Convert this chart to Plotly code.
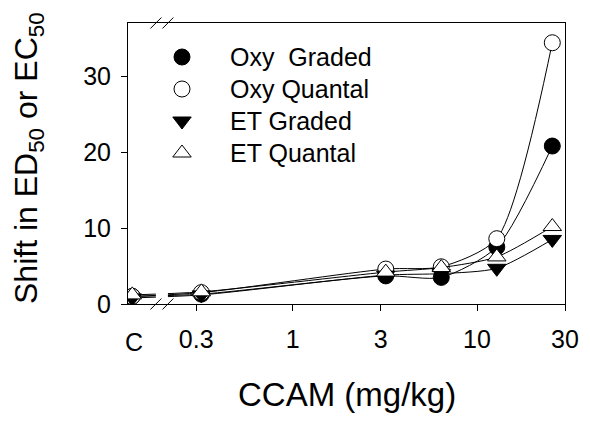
import math
import plotly.graph_objects as go

# ---------------- data ----------------
CONTROL_X = 0.135          # plotting position used for the control group "C"
doses = [CONTROL_X, 0.32, 3.2, 6.4, 12.8, 25.6]

oxy_graded = [1.0, 1.3, 3.7, 3.5, 7.5, 20.8]
oxy_quantal = [1.0, 1.5, 4.6, 4.9, 8.6, 34.4]
et_graded = [0.8, 1.2, 3.8, 4.0, 4.7, 8.5]
et_quantal = [1.2, 1.6, 4.2, 4.8, 6.2, 10.2]

x_tickvals = [0.3, 1, 3, 10, 30]
x_ticktext = ["0.3", "1", "3", "10", "30"]
y_tickvals = [0, 10, 20, 30]

X_MIN, X_MAX = 0.128, 30
Y_MIN, Y_MAX = 0, 37
BREAK_X = 0.1955  # axis-break position between control and first dose

FONT = "Arial, Liberation Sans, sans-serif"

series = [
    ("Oxy  Graded", oxy_graded, "circle", "black"),
    ("Oxy Quantal", oxy_quantal, "circle", "white"),
    ("ET Graded", et_graded, "triangle-down", "black"),
    ("ET Quantal", et_quantal, "triangle-up", "white"),
]
MSIZE = 16

# ---------------- geometry helpers ----------------
# the page body has an 8px margin, so the figure is sized/offset to compensate
PAGE_OFF = 8
W, H = 590 - PAGE_OFF, 426 - PAGE_OFF
L, R, T, B = 128 - PAGE_OFF, 25, 23 - PAGE_OFF, 122
pw, ph = W - L - R, H - T - B
lx0, lx1 = math.log10(X_MIN), math.log10(X_MAX)
dx = 1.0 / pw
dy = 1.0 / ph
PLOT_LEFT_PX, PLOT_TOP_PX = 128, 23  # in window pixels


def xp(v):
    return (math.log10(v) - lx0) / (lx1 - lx0)


def px_x(px):
    return (px - PLOT_LEFT_PX) * dx


def px_y(py):
    return (ph - (py - PLOT_TOP_PX)) * dy


fig = go.Figure()
for name, ys, sym, fill in series:
    fig.add_trace(go.Scatter(
        x=doses, y=ys, name=name, mode="lines+markers", showlegend=False,
        line=dict(color="black", width=1, shape="spline", smoothing=0.7),
        marker=dict(symbol=sym, size=MSIZE, color=fill,
                    line=dict(color="black", width=1)),
    ))

# ---------------- custom legend (overlay axis in paper units) ----------------
LEG_SYM_X = px_x(182)
LEG_TXT_X = px_x(228)
LEG_Y0 = px_y(57)
LEG_STEP = 32 * dy
annotations = []
for i, (name, ys, sym, fill) in enumerate(series):
    yy = LEG_Y0 - i * LEG_STEP
    fig.add_trace(go.Scatter(
        x=[LEG_SYM_X], y=[yy], xaxis="x2", yaxis="y2", mode="markers",
        showlegend=False, hoverinfo="skip",
        marker=dict(symbol=sym, size=MSIZE, color=fill,
                    line=dict(color="black", width=1)),
    ))
    annotations.append(dict(text=name, x=LEG_TXT_X, y=yy, xref="paper", yref="paper",
                            xanchor="left", yanchor="middle", showarrow=False,
                            font=dict(size=25, family=FONT)))

# "C" control label
annotations.append(dict(text="C", x=xp(CONTROL_X) + 2 * dx, y=0, xref="paper", yref="paper",
                        yshift=-38, showarrow=False, xanchor="center", yanchor="middle",
                        font=dict(size=25, family=FONT)))
# axis titles
annotations.append(dict(text="CCAM (mg/kg)", x=0.5, y=px_y(394),
                        xref="paper", yref="paper", xanchor="center", yanchor="middle",
                        showarrow=False, font=dict(size=33, family=FONT)))
annotations.append(dict(text="Shift in ED<sub>50</sub> or EC<sub>50</sub>",
                        x=px_x(28), y=px_y(158),
                        xref="paper", yref="paper", xanchor="center", yanchor="middle",
                        textangle=-90, showarrow=False, font=dict(size=32, family=FONT)))

shapes = []
bx = xp(BREAK_X)
# gap in connecting lines at the axis break
shapes.append(dict(type="rect", xref="paper", yref="paper",
                   x0=bx - 6 * dx, x1=bx + 6 * dx, y0=2 * dy, y1=0.09,
                   fillcolor="white", line=dict(width=0), layer="above"))
# break marks (bottom and top)
for cy in (0.0, 1.0):
    for off in (-6, 6):
        cx = bx + off * dx
        shapes.append(dict(type="line", xref="paper", yref="paper",
                           x0=cx - 5.5 * dx, y0=cy - 5.5 * dy,
                           x1=cx + 5.5 * dx, y1=cy + 5.5 * dy,
                           line=dict(color="black", width=1), layer="above"))

fig.update_layout(
    width=W, height=H,
    margin=dict(l=L, r=R, t=T, b=B, autoexpand=False),
    paper_bgcolor="white", plot_bgcolor="white",
    font=dict(family=FONT, color="black"),
    shapes=shapes, annotations=annotations,
    showlegend=False,
    xaxis2=dict(range=[0, 1], overlaying="x", visible=False, fixedrange=True),
    yaxis2=dict(range=[0, 1], overlaying="y", visible=False, fixedrange=True),
)

fig.layout.xaxis.update(
    type="log", range=[lx0, lx1],
    tickvals=x_tickvals, ticktext=x_ticktext,
    ticks="outside", ticklen=6, tickwidth=1, tickcolor="black",
    tickfont=dict(size=25, family=FONT), ticklabelstandoff=7,
    showline=True, linecolor="black", linewidth=1, mirror=True,
    showgrid=False, zeroline=False, automargin=False,
)
fig.layout.yaxis.update(
    range=[Y_MIN, Y_MAX], tickvals=y_tickvals,
    ticks="outside", ticklen=6, tickwidth=1, tickcolor="black",
    tickfont=dict(size=25, family=FONT), ticklabelstandoff=5,
    showline=True, linecolor="black", linewidth=1, mirror=True,
    showgrid=False, zeroline=False, automargin=False,
)

fig.write_html("out.html")
